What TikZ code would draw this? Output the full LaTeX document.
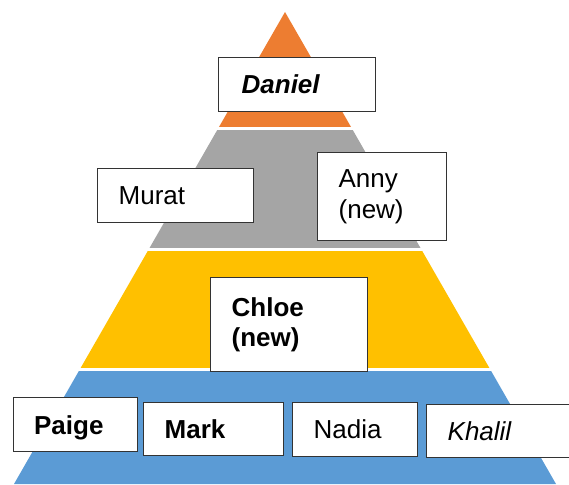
\documentclass[tikz,border=0pt]{standalone}
\usepackage{fontspec}
\setmainfont{Liberation Sans}
\definecolor{tierorange}{HTML}{ED7D31}
\definecolor{tiergray}{HTML}{A5A5A5}
\definecolor{tieryellow}{HTML}{FFC000}
\definecolor{tierblue}{HTML}{5B9BD5}
\definecolor{boxline}{HTML}{333333}
\newcommand{\nodepth}[1]{\raisebox{0pt}[\height][0pt]{#1}}
\begin{document}
\begin{tikzpicture}[x=1pt,y=-1pt,
  namebox/.style={draw=boxline, line width=1.3pt, fill=white, anchor=north west,
    inner xsep=21pt, inner ysep=0pt, align=left,
    font=\fontsize{26}{30.5}\selectfont},
]
\useasboundingbox (0,0) rectangle (569,484);
\clip (0,0) rectangle (569,484);

% four tiers of the pyramid, separated by thin white gaps
\begin{scope}
  \clip (285,12) -- (14,484) -- (556,484) -- cycle;
  \fill[tierorange] (0,0) rectangle (569,127);
  \fill[tiergray]   (0,130) rectangle (569,248);
  \fill[tieryellow] (0,251) rectangle (569,367.5);
  \fill[tierblue]   (0,371) rectangle (569,490);
\end{scope}

% top tier
\node[namebox, inner xsep=23pt, text width=111pt, minimum height=54pt] (daniel) at (218,57)
  {\textbf{\textit{Daniel}}};

% second tier
\node[namebox, text width=114pt, minimum height=54pt] (murat) at (97,168) {Murat};
\node[namebox, text width=87pt, minimum height=88pt] (anny) at (317,152) {Anny\\(new)};

% third tier
\node[namebox, text width=115pt, minimum height=94pt] (chloe) at (210,277)
  {\textbf{Chloe}\\\textbf{(new)}};

% bottom tier
\node[namebox, text width=82pt, minimum height=54pt] (paige) at (12.5,397) {\nodepth{\textbf{Paige}}};
\node[namebox, text width=98pt, minimum height=53pt] (mark) at (143,402) {\textbf{Mark}};
\node[namebox, text width=83pt, minimum height=54pt] (nadia) at (292,402) {Nadia};
\node[namebox, text width=108pt, minimum height=53pt] (khalil) at (426,404) {\textit{Khalil}};
\end{tikzpicture}
\end{document}
